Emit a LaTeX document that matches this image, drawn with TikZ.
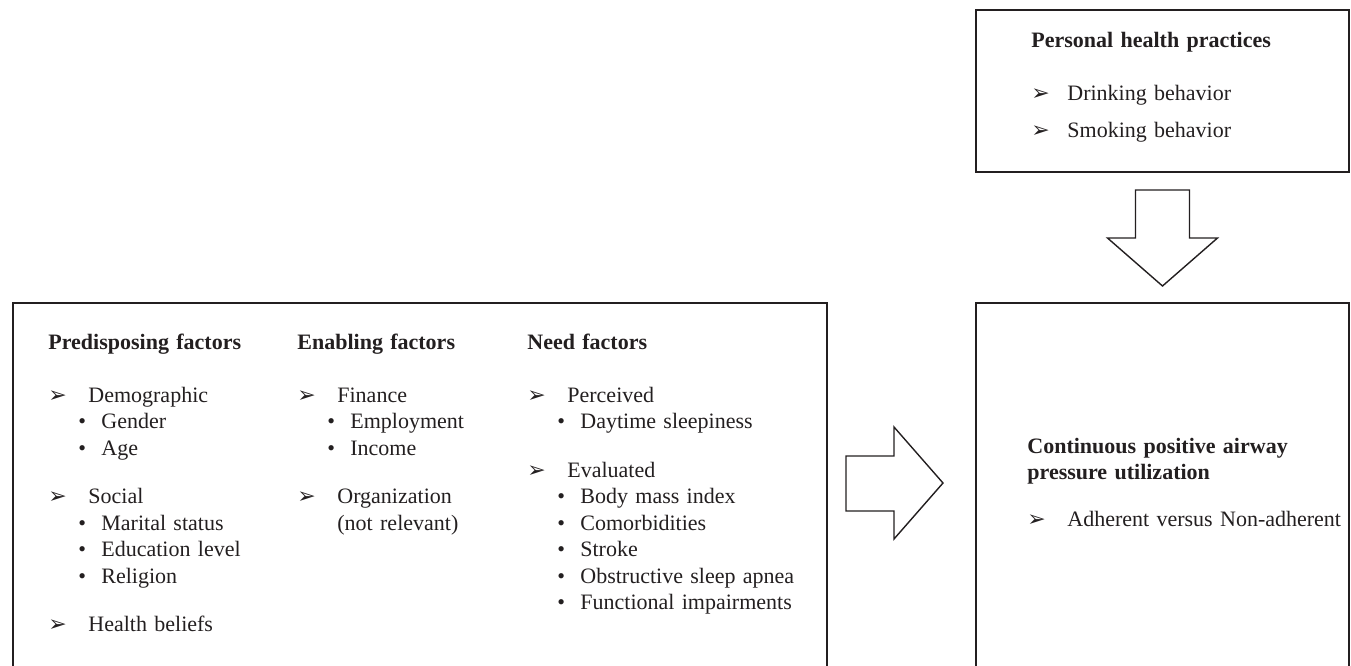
\documentclass[tikz,border=0pt]{standalone}
\usepackage{fontspec}
\setmainfont{Liberation Serif}
\newfontfamily\symfont{DejaVu Sans}
\usetikzlibrary{calc,positioning}
\definecolor{inkGray}{RGB}{35,31,32}
\newcommand{\arrowmark}{{\symfont\fontsize{11}{11}\selectfont ➢}}
\newcommand{\mainpt}[2][20pt]{\makebox[#1][l]{\arrowmark}#2\par}
\newcommand{\subpt}[1]{\hspace*{15pt}\makebox[11.5pt][l]{\textbullet}#1\par}

\begin{document}
\begin{tikzpicture}[x=0.5pt,y=-0.5pt,
  frame/.style={draw=inkGray,line width=1pt,inner sep=0pt,anchor=north west},
  blockarrow/.style={draw=inkGray,line width=0.7pt,line join=miter,fill=white},
  column/.style={anchor=base west,inner sep=0pt,text width=#1,align=left,text=inkGray,font=\fontsize{11}{13.25}\selectfont}]
\useasboundingbox (0,0) rectangle (1351,665);

% boxes
\node[frame,minimum width=407pt,minimum height=186pt] (factors) at (12,302) {};
\node[frame,minimum width=186.5pt,minimum height=186pt] (outcome) at (975,302) {};
\node[frame,minimum width=186.5pt,minimum height=81pt] (practices) at (975,9) {};

% factor columns
\node[column=118pt] (predisposing) at (48,349) {{\bfseries Predisposing factors}\par\vspace{13.25pt}
\mainpt{Demographic}
\subpt{Gender}
\subpt{Age}
\vspace{11pt}
\mainpt{Social}
\subpt{Marital status}
\subpt{Education level}
\subpt{Religion}
\vspace{11pt}
\mainpt{Health beliefs}};
\node[column=110pt] (enabling) at (297,349) {{\bfseries Enabling factors}\par\vspace{13.25pt}
\mainpt{Finance}
\subpt{Employment}
\subpt{Income}
\vspace{11pt}
\mainpt{Organization}
\hspace*{20pt}(not relevant)\par};
\node[column=140pt] (need) at (527,349) {{\bfseries Need factors}\par\vspace{13.25pt}
\mainpt{Perceived}
\subpt{Daytime sleepiness}
\vspace{11pt}
\mainpt{Evaluated}
\subpt{Body mass index}
\subpt{Comorbidities}
\subpt{Stroke}
\subpt{Obstructive sleep apnea}
\subpt{Functional impairments}};

% practices and outcome
\node[column=150pt,font=\fontsize{11}{18.5}\selectfont] (practicelist) at (1031,47) {{\bfseries Personal health practices}\par\vspace{8pt}
\mainpt[18pt]{Drinking behavior}
\mainpt[18pt]{Smoking behavior}};
\node[column=159pt,font=\fontsize{11}{13}\selectfont] (outcomelist) at (1027,453) {{\bfseries Continuous positive airway\par pressure utilization}\par\vspace{10.5pt}
\mainpt[20pt]{Adherent versus Non-adherent}};

% block arrows
\draw[blockarrow] ($(practices.south)+(-27,17)$) -- ++(54,0) -- ++(0,48) -- ++(28,0)
  -- ++(-55,48) -- ++(-55,-48) -- ++(28,0) -- cycle;
\draw[blockarrow] ($(factors.north east)+(18,154)$) -- ++(48,0) -- ++(0,-29) -- ++(49,56)
  -- ++(-49,56) -- ++(0,-28) -- ++(-48,0) -- cycle;
\end{tikzpicture}
\end{document}
